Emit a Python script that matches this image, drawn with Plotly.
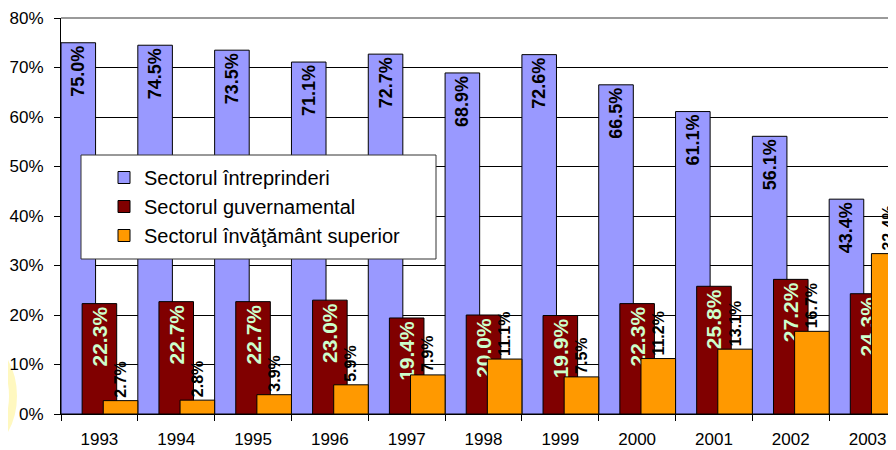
import plotly.graph_objects as go

years = ["1993", "1994", "1995", "1996", "1997", "1998", "1999", "2000", "2001", "2002", "2003"]
intreprinderi = [75.0, 74.5, 73.5, 71.1, 72.7, 68.9, 72.6, 66.5, 61.1, 56.1, 43.4]
guvernamental = [22.3, 22.7, 22.7, 23.0, 19.4, 20.0, 19.9, 22.3, 25.8, 27.2, 24.3]
invatamant = [2.7, 2.8, 3.9, 5.9, 7.9, 11.1, 7.5, 11.2, 13.1, 16.7, 32.4]

names = ["Sectorul întreprinderi", "Sectorul guvernamental", "Sectorul învăţământ superior"]

FONT = "Liberation Sans, Arial, sans-serif"

# the page body has an 8px margin: lay out in window coordinates minus 8
OFF = 8
W, H = 896 - OFF, 450 - OFF
ML = 61 - OFF
MT = 18 - OFF
MB = H - (414 - OFF)
MR = 0
pw = W - ML - MR
ph = H - MT - MB

fig = go.Figure()

series = [
    (names[0], intreprinderi, "#9999FF", -0.5, "inside", "#000000", 18),
    (names[1], guvernamental, "#800000", -0.225, "inside", "#CCFFCC", 21),
    (names[2], invatamant, "#FF9900", 0.05, "outside", "#000000", 16),
]

for i, (nm, vals, col, off, tpos, tcol, tsize) in enumerate(series):
    fig.add_trace(go.Bar(
        x=years, y=vals, name=nm,
        marker=dict(color=col, line=dict(color="#000000", width=1)),
        width=0.45, offset=off,
        text=[f"{v:.1f}%" for v in vals],
        textposition=tpos, textangle=-90,
        insidetextanchor="end",
        textfont=dict(family=FONT, size=tsize, color=tcol, weight="bold"),
        constraintext="none",
        cliponaxis=True,
        legendgroup=f"g{i}",
        hoverinfo="skip",
    ))


def px_x(p):
    """window x pixel -> paper x"""
    return (p - OFF - ML) / pw


def px_y(p):
    """window y pixel -> paper y"""
    return (H - MB - (p - OFF)) / ph


shapes = [
    # top border of plot area
    dict(type="line", xref="paper", yref="paper", x0=0, x1=1, y0=1, y1=1,
         line=dict(color="#9a9a9a", width=2), layer="above"),
    # legend box
    dict(type="rect", xref="paper", yref="paper",
         x0=px_x(81), x1=px_x(436), y0=px_y(259), y1=px_y(155),
         fillcolor="white", line=dict(color="#333333", width=1), layer="above"),
    # faint yellow decoration at left edge
    dict(type="circle", xref="paper", yref="paper",
         x0=px_x(-108), x1=px_x(13), y0=px_y(462), y1=px_y(330),
         line=dict(color="#FFF176", width=8), opacity=0.45, layer="below"),
]

fig.update_layout(
    width=W, height=H,
    margin=dict(l=ML, r=MR, t=MT, b=MB, pad=0, autoexpand=False),
    barmode="overlay",
    plot_bgcolor="white", paper_bgcolor="white",
    font=dict(family=FONT, size=17, color="#000000"),
    shapes=shapes,
    showlegend=True,
    legend=dict(
        x=px_x(104), y=px_y(158), xanchor="left", yanchor="top",
        bgcolor="rgba(0,0,0,0)", borderwidth=0,
        font=dict(family=FONT, size=20, color="#000000"),
        tracegroupgap=14,
        traceorder="normal",
    ),
    xaxis=dict(
        type="category", range=[-0.5, 10.5 - 10 / 76.8],
        automargin=False,
        showgrid=False, showline=True, linecolor="#000000", linewidth=1,
        ticks="outside", tickson="boundaries", ticklen=6, tickcolor="#000000",
        ticklabelstandoff=10,
        tickfont=dict(family=FONT, size=17, color="#000000"),
        zeroline=False,
    ),
    yaxis=dict(
        range=[0, 80], dtick=10, ticksuffix="%",
        automargin=False,
        showgrid=True, gridcolor="#000000", gridwidth=1,
        showline=True, linecolor="#000000", linewidth=1,
        ticks="outside", ticklen=6, tickcolor="#000000",
        ticklabelstandoff=7,
        tickfont=dict(family=FONT, size=17, color="#000000"),
        zeroline=False,
    ),
)

fig.write_html("out.html")
